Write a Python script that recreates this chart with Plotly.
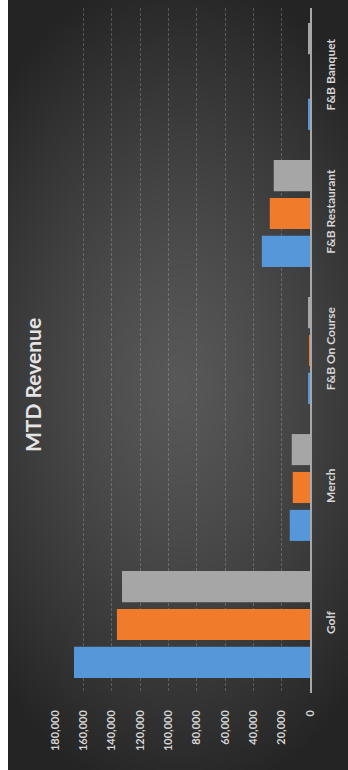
import base64
import struct
import zlib

import numpy as np
import plotly.graph_objects as go

categories = ["Golf", "Merch", "F&B On Course", "F&B Restaurant", "F&B Banquet"]
series_names = ["Actual", "Budget", "Last Year"]
actual = [166600, 14300, 1000, 34000, 800]
budget = [136300, 12200, 400, 28400, 0]
last_year = [132700, 12900, 1200, 25600, 900]
value_ticks = [0, 20000, 40000, 60000, 80000, 100000, 120000, 140000, 160000, 180000]

colors = ["#5597d9", "#f07b2a", "#a6a6a6"]


def make_bg_png(w, h):
    yy, xx = np.mgrid[0:h, 0:w].astype(float)
    cx, cy = w * 0.5, h * 0.5
    d = np.sqrt(((xx - cx) / (w * 0.75)) ** 2 + ((yy - cy) / (h * 0.55)) ** 2)
    d = np.clip(d, 0, 1)
    v = 88 - (88 - 36) * d ** 1.3
    img = np.clip(v, 0, 255).astype(np.uint8)
    rgb = np.stack([img, img, img], axis=-1)
    raw = b"".join(b"\x00" + rgb[r].tobytes() for r in range(h))

    def chunk(tag, data):
        c = struct.pack(">I", len(data)) + tag + data
        return c + struct.pack(">I", zlib.crc32(tag + data) & 0xFFFFFFFF)

    png = b"\x89PNG\r\n\x1a\n"
    png += chunk(b"IHDR", struct.pack(">IIBBBBB", w, h, 8, 2, 0, 0, 0))
    png += chunk(b"IDAT", zlib.compress(raw, 9))
    png += chunk(b"IEND", b"")
    return "data:image/png;base64," + base64.b64encode(png).decode()


W, H = 340, 770
ML, MR, MT, MB = 47, 38, 8, 77
PW, PH = W - ML - MR, H - MT - MB

fig = go.Figure()
for name, vals, col in zip(series_names, [actual, budget, last_year], colors):
    fig.add_trace(go.Bar(
        name=name, y=categories, x=vals, orientation="h",
        marker=dict(color=col, line=dict(width=0)),
    ))

bg = make_bg_png(170, 385)
fig.add_layout_image(dict(
    source=bg, xref="paper", yref="paper",
    x=-ML / PW, y=(PH + MT) / PH,
    sizex=W / PW, sizey=H / PH,
    xanchor="left", yanchor="top", sizing="stretch", layer="below",
))

FAM = "Lato, 'Noto Sans', sans-serif"

fig.update_layout(
    width=W, height=H,
    margin=dict(l=ML, r=MR, t=MT, b=MB),
    paper_bgcolor="#303030",
    plot_bgcolor="rgba(0,0,0,0)",
    barmode="group", bargap=0.17, bargroupgap=0.18,
    showlegend=False,
    xaxis=dict(
        range=[180000, 0], autorange=False,
        tickvals=value_ticks, tickformat=",",
        tickangle=-90, tickfont=dict(family=FAM, size=11, color="#d6d6d6", weight="bold"),
        showgrid=True, gridcolor="rgba(200,200,200,0.28)", griddash="3px,2px", gridwidth=1,
        zeroline=False, showline=False, ticks="", ticklabelstandoff=14,
    ),
    yaxis=dict(
        type="category", side="right",
        tickangle=-90, tickfont=dict(family=FAM, size=12, color="#d6d6d6", weight="bold"),
        showgrid=False, zeroline=False,
        showline=True, linecolor="#a8a8a8", linewidth=2,
        ticks="", ticklabelstandoff=9, layer="below traces",
    ),
    annotations=[dict(
        text="MTD Revenue", textangle=-90, showarrow=False,
        xref="paper", yref="paper",
        x=(24 - ML) / PW, y=(PH + MT - 385) / PH,
        xanchor="center", yanchor="middle",
        font=dict(family=FAM, size=21, color="#e4e4e4", weight="bold"),
    )],
)

fig.write_html("out.html", post_script="document.body.style.margin='0 0 0 8px';")
